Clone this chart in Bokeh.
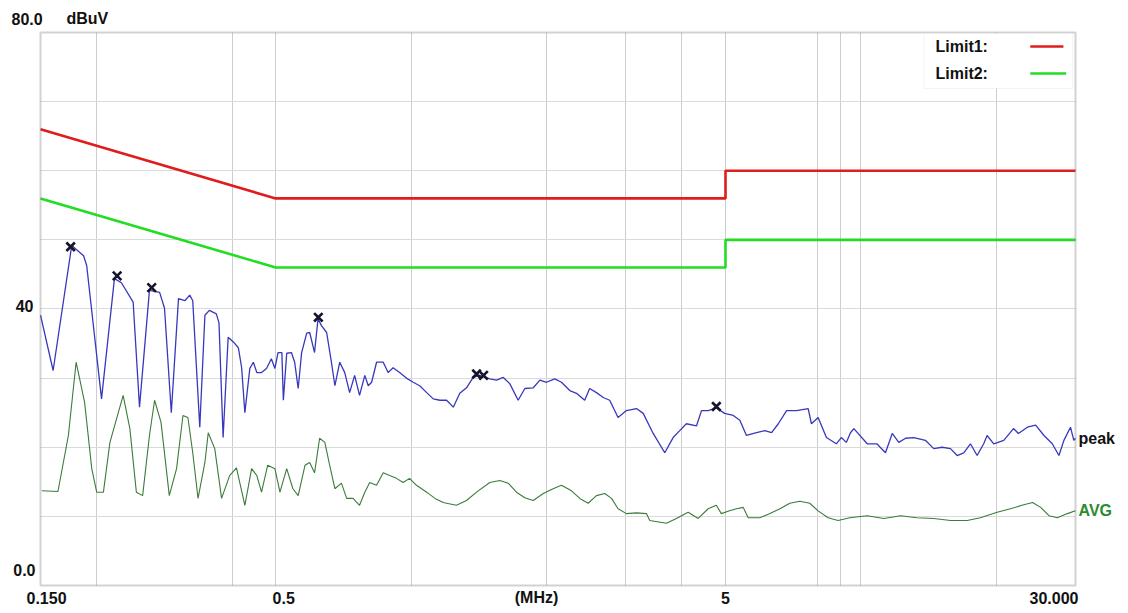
from bokeh.plotting import figure
from bokeh.models import Range1d, FixedTicker, Label, BoxAnnotation, Arrow, Grid
from bokeh.embed import file_html
from bokeh.resources import INLINE

# ---------------- data ----------------
peak_freq = [0.150, 0.160, 0.176, 0.187, 0.190, 0.205, 0.219, 0.227, 0.241, 0.249,
             0.262, 0.276, 0.283, 0.293, 0.304, 0.314, 0.322, 0.327, 0.339, 0.348,
             0.356, 0.369, 0.374, 0.382, 0.392, 0.403, 0.413, 0.420, 0.427, 0.438,
             0.446, 0.454, 0.465, 0.477, 0.489, 0.498, 0.506, 0.516, 0.520, 0.529,
             0.542, 0.551, 0.561, 0.571, 0.586, 0.595, 0.610, 0.621, 0.632, 0.649,
             0.665, 0.677, 0.694, 0.712, 0.730, 0.749, 0.768, 0.789, 0.803, 0.817,
             0.838, 0.867, 0.889, 0.912, 0.943, 0.976, 1.011, 1.045, 1.083, 1.120,
             1.159, 1.199, 1.241, 1.283, 1.328, 1.374, 1.422, 1.496, 1.549, 1.603,
             1.657, 1.730, 1.790, 1.869, 1.933, 2.000, 2.086, 2.159, 2.253, 2.332,
             2.432, 2.494, 2.583, 2.674, 2.764, 2.885, 3.011, 3.170, 3.281, 3.453,
             3.664, 3.824, 3.956, 4.093, 4.311, 4.422, 4.576, 4.771, 4.977, 5.202,
             5.381, 5.567, 5.859, 6.112, 6.331, 6.552, 6.836, 7.191, 7.634, 7.764,
             8.033, 8.382, 8.817, 9.046, 9.279, 9.482, 9.644, 10.33, 10.85, 11.34,
             11.74, 12.14, 12.57, 13.11, 13.91, 14.52, 15.16, 15.82, 16.37, 16.93,
             17.52, 18.13, 18.75, 19.08, 19.74, 20.78, 21.84, 22.40, 23.45, 24.46,
             25.53, 26.64, 27.56, 28.27, 29.24, 29.74, 30.0]
peak_dbuv = [39.1, 31.1, 49.2, 47.7, 46.3, 27.0, 44.4, 43.8, 41.0, 25.8,
             42.7, 42.4, 40.1, 25.0, 41.5, 41.2, 42.0, 41.2, 22.9, 39.1,
             39.8, 39.3, 38.0, 21.4, 35.9, 35.2, 34.4, 31.5, 25.0, 31.4,
             32.3, 30.8, 30.8, 31.4, 32.8, 31.4, 33.7, 33.7, 26.8, 33.6,
             33.7, 32.3, 28.5, 33.7, 36.5, 36.6, 33.7, 38.6, 37.6, 36.6,
             32.3, 28.9, 32.3, 30.8, 27.9, 30.4, 27.5, 30.4, 28.9, 29.4,
             32.3, 32.3, 30.8, 31.5, 30.8, 30.0, 29.4, 28.9, 27.9, 27.0,
             26.8, 26.8, 25.8, 27.8, 28.6, 30.1, 30.4, 29.9, 29.7, 30.1,
             29.2, 26.8, 28.5, 28.6, 29.7, 29.4, 29.9, 29.4, 28.2, 27.8,
             26.8, 28.5, 27.9, 27.2, 26.8, 24.3, 25.3, 25.6, 24.9, 22.0,
             19.2, 21.4, 22.4, 23.4, 23.1, 25.3, 25.3, 25.7, 24.9, 24.6,
             23.9, 21.7, 22.1, 22.4, 22.1, 23.4, 25.3, 25.3, 25.6, 23.4,
             24.3, 21.4, 20.5, 21.4, 20.7, 22.1, 22.7, 20.5, 20.5, 19.2,
             22.0, 20.7, 21.3, 21.4, 21.0, 19.8, 20.0, 19.8, 18.8, 19.2,
             20.5, 18.8, 20.5, 21.7, 20.5, 21.0, 22.7, 22.0, 22.9, 23.2,
             21.7, 20.5, 18.8, 21.0, 22.9, 21.0, 21.3]

avg_freq = [0.151, 0.164, 0.173, 0.180, 0.188, 0.195, 0.200, 0.207, 0.214, 0.229,
            0.237, 0.245, 0.253, 0.262, 0.269, 0.278, 0.290, 0.301, 0.311, 0.319,
            0.327, 0.336, 0.348, 0.354, 0.366, 0.379, 0.395, 0.409, 0.427, 0.442,
            0.454, 0.465, 0.480, 0.498, 0.511, 0.529, 0.546, 0.561, 0.581, 0.595,
            0.610, 0.626, 0.643, 0.659, 0.677, 0.700, 0.719, 0.743, 0.768, 0.789,
            0.809, 0.838, 0.867, 0.896, 0.928, 0.960, 0.992, 1.028, 1.083, 1.130,
            1.179, 1.199, 1.262, 1.328, 1.398, 1.496, 1.575, 1.644, 1.715, 1.790,
            1.869, 1.967, 2.069, 2.159, 2.273, 2.372, 2.475, 2.583, 2.695, 2.790,
            2.885, 3.011, 3.170, 3.336, 3.393, 3.696, 3.889, 4.129, 4.349, 4.576,
            4.771, 4.894, 5.104, 5.290, 5.475, 5.616, 5.959, 6.277, 6.607, 6.949,
            7.314, 7.697, 8.033, 8.455, 8.895, 9.448, 10.33, 11.24, 12.25, 13.33,
            14.52, 15.82, 17.23, 18.44, 20.09, 21.50, 22.80, 24.08, 25.10, 26.19,
            27.34, 28.77, 30.0]
avg_dbuv = [13.7, 13.6, 21.7, 32.3, 26.5, 16.9, 13.5, 13.5, 20.7, 27.5,
            22.7, 13.5, 13.0, 21.7, 26.8, 23.6, 13.0, 16.9, 24.6, 24.3,
            19.2, 12.6, 17.8, 22.1, 19.8, 12.6, 15.9, 17.0, 11.6, 16.9,
            15.9, 13.5, 17.4, 16.9, 13.5, 16.9, 14.0, 13.0, 17.4, 17.8,
            16.3, 21.3, 20.7, 17.4, 14.0, 14.8, 12.6, 12.6, 11.6, 13.5,
            14.9, 14.5, 16.3, 15.9, 15.5, 14.9, 15.5, 14.5, 13.5, 12.6,
            12.0, 11.9, 11.6, 12.3, 13.5, 14.9, 15.2, 14.8, 13.5, 12.7,
            12.3, 13.3, 14.0, 14.5, 13.7, 12.6, 11.9, 13.0, 13.3, 12.6,
            11.1, 10.4, 10.5, 10.4, 9.4, 9.0, 9.7, 10.6, 9.7, 11.1,
            11.6, 10.4, 10.8, 11.1, 11.3, 9.8, 9.8, 10.4, 11.1, 11.9,
            12.2, 11.9, 10.8, 9.8, 9.4, 9.8, 10.1, 9.7, 10.1, 9.8,
            9.7, 9.4, 9.4, 9.8, 10.6, 11.1, 11.6, 12.0, 11.3, 10.1,
            9.8, 10.4, 10.8]

marker_freq = [0.175, 0.222, 0.265, 0.622, 1.398, 1.449, 4.771]
marker_dbuv = [49.0, 44.8, 43.1, 38.8, 30.6, 30.4, 25.9]

limit_freq = [0.15, 0.5, 5.0, 5.0, 30.0]
limit1_dbuv = [66.0, 56.0, 56.0, 60.0, 60.0]   # QP limit (red)
limit2_dbuv = [56.0, 46.0, 46.0, 50.0, 50.0]   # AV limit (green)

grid_freqs = [0.2, 0.4, 0.5, 1, 2, 3, 4, 5, 8, 9, 10, 20]
grid_dbuv = [10, 20, 30, 40, 50, 60, 70]

f_min, f_max = 0.15, 30.0
db_min, db_max = 0.0, 80.0
x_tick_freqs = [0.15, 0.5, 5.0, 30.0]
x_tick_labels = ["0.150", "0.5", "5", "30.000"]
y_tick_vals = [80.0, 40.0, 0.0]
y_tick_labels = ["80.0", "40", "0.0"]
unit_x = "(MHz)"
unit_y = "dBuV"
legend_labels = ["Limit1:", "Limit2:"]

# ---------------- figure ----------------
FONT = "Liberation Sans"
FS = "16px"

# the Bokeh frame covers the whole canvas; the chart box (0.15-30 MHz, 0-80 dBuV)
# is drawn inside it so that all the texts around the box stay visible.
p = figure(width=1120, height=610, x_axis_type="log",
           x_range=Range1d(0.12222, 37.77), y_range=Range1d(-3.617, 84.629),
           output_backend="svg", toolbar_location=None, min_border=0)
p.xaxis.visible = False
p.yaxis.visible = False
p.background_fill_color = "white"
p.border_fill_color = "white"
p.outline_line_color = None

has_cross = "cross_bounds" in Grid.properties()
if has_cross:
    p.xgrid.ticker = FixedTicker(ticks=grid_freqs)
    p.ygrid.ticker = FixedTicker(ticks=grid_dbuv)
    p.xgrid.cross_bounds = (db_min, db_max)
    p.ygrid.cross_bounds = (f_min, f_max)
    p.xgrid.grid_line_color = "#cdcdcd"
    p.ygrid.grid_line_color = "#dadada"
else:
    p.xgrid.visible = False
    p.ygrid.visible = False
    p.segment(x0=grid_freqs, y0=[db_min] * len(grid_freqs), x1=grid_freqs,
              y1=[db_max] * len(grid_freqs), line_color="#cdcdcd", line_width=1)
    p.segment(x0=[f_min] * len(grid_dbuv), y0=grid_dbuv, x1=[f_max] * len(grid_dbuv),
              y1=grid_dbuv, line_color="#dadada", line_width=1)

# limits
p.line(limit_freq, limit1_dbuv, line_color="#e01c1c", line_width=2.6)
p.line(limit_freq, limit2_dbuv, line_color="#22dd22", line_width=2.6)

# traces
p.line(avg_freq, avg_dbuv, line_color="#3b7b3b", line_width=1.1)
p.line(peak_freq, peak_dbuv, line_color="#3838bd", line_width=1.3)

# peak markers
p.scatter(marker_freq, marker_dbuv, marker="x", size=12,
          line_color="#14142a", line_width=2.6)

# chart box
p.add_layout(BoxAnnotation(left=f_min, right=f_max, bottom=db_min, top=db_max,
                           fill_alpha=0, line_color="#6a6a6a", line_width=2))


def lab(x, y, text, xo=0, align="left", color="#111111"):
    p.add_layout(Label(x=x, y=y, x_units="data", y_units="data", text=text,
                       x_offset=xo, text_align=align, text_baseline="middle",
                       text_font=FONT, text_font_size=FS, text_font_style="bold",
                       text_color=color))


# y labels
lab(f_min, y_tick_vals[0] + 2.0, y_tick_labels[0], xo=-29)
lab(f_min, y_tick_vals[0] + 2.0, unit_y, xo=26)
lab(f_min, y_tick_vals[1] + 0.4, y_tick_labels[1], xo=-7, align="right")
lab(f_min, y_tick_vals[2] + 2.3, y_tick_labels[2], xo=-5, align="right")

# x labels
xl_y = -1.8
lab(x_tick_freqs[0], xl_y, x_tick_labels[0], xo=6, align="center")
lab(x_tick_freqs[1], xl_y, x_tick_labels[1], xo=8, align="center")
lab(x_tick_freqs[2], xl_y, x_tick_labels[2], xo=0, align="center")
lab(x_tick_freqs[3], xl_y, x_tick_labels[3], xo=3, align="right")
lab(2.0, xl_y, unit_x, xo=-10, align="center")

# trace names
lab(f_max, peak_dbuv[-1], "peak", xo=3)
lab(f_max, avg_dbuv[-1], "AVG", xo=3, color="#2e8a2e")

# legend box
p.add_layout(BoxAnnotation(left=13.8, right=29.6, top=79.85, bottom=71.9,
                           fill_color="white", fill_alpha=1.0,
                           line_color="#d6d6d6", line_width=1))
lab(14.65, 77.97, legend_labels[0])
lab(14.65, 74.07, legend_labels[1])
p.add_layout(Arrow(end=None, x_start=23.8, y_start=77.97, x_end=28.2, y_end=77.97,
                   line_color="#e01c1c", line_width=2.5))
p.add_layout(Arrow(end=None, x_start=23.8, y_start=74.07, x_end=28.6, y_end=74.07,
                   line_color="#22dd22", line_width=2.5))

open("out.html", "w").write(file_html(p, INLINE))
